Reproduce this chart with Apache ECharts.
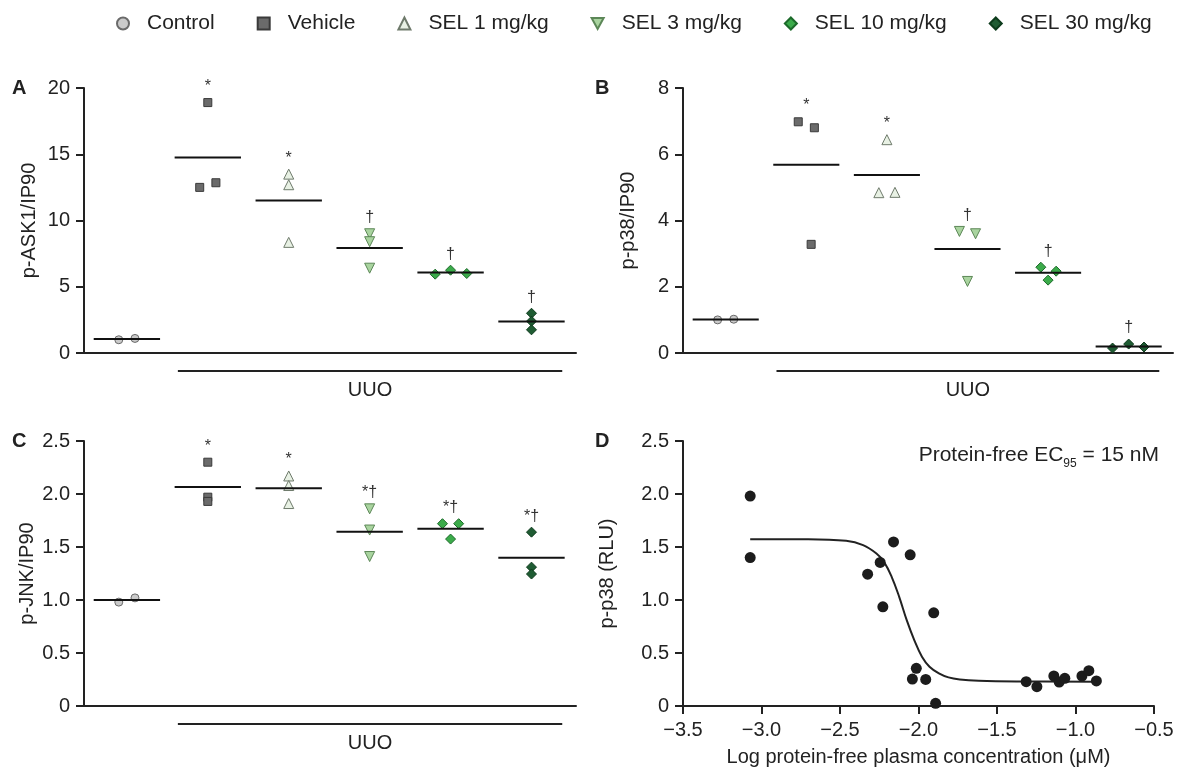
<!DOCTYPE html>
<html>
<head>
<meta charset="utf-8">
<script src="https://cdn.jsdelivr.net/npm/echarts@6/dist/echarts.min.js"></script>
<style>
  html, body { margin: 0; padding: 0; background: #fff; }
  #chart { width: 1177px; height: 770px; }
</style>
</head>
<body>
<div id="chart"></div>
<script>
// groups, in plotting order
const groups = ['Control', 'Vehicle', 'SEL 1 mg/kg', 'SEL 3 mg/kg', 'SEL 10 mg/kg', 'SEL 30 mg/kg'];

// panel A: p-ASK1/IP90
const askValues = [[1.0, 1.1], [18.9, 12.5, 12.85], [13.5, 12.7, 8.35], [9.0, 8.4, 6.4], [5.95, 6.25, 6.0], [3.0, 2.4, 1.75]];
const askJitter = [[-0.1, 0.1], [0, -0.1, 0.1], [0, 0, 0], [0, 0, 0], [-0.19, 0, 0.2], [0, 0, 0]];
const askMarks = ['', '*', '*', '\u2020', '\u2020', '\u2020'];
const askTicks = [0, 5, 10, 15, 20];

// panel B: p-p38/IP90
const p38Values = [[1.0, 1.02], [6.98, 6.8, 3.28], [6.44, 4.84, 4.85], [3.67, 3.6, 2.16], [2.59, 2.47, 2.2], [0.15, 0.27, 0.18]];
const p38Jitter = [[-0.1, 0.1], [-0.1, 0.1, 0.06], [0, -0.1, 0.1], [-0.1, 0.1, 0], [-0.09, 0.1, 0], [-0.2, 0, 0.19]];
const p38Marks = ['', '*', '*', '\u2020', '\u2020', '\u2020'];
const p38Ticks = [0, 2, 4, 6, 8];

// panel C: p-JNK/IP90
const jnkValues = [[0.98, 1.02], [2.30, 1.97, 1.93], [2.17, 2.08, 1.91], [1.86, 1.66, 1.41], [1.72, 1.72, 1.575], [1.64, 1.31, 1.245]];
const jnkJitter = [[-0.1, 0.1], [0, 0, 0], [0, 0, 0], [0, 0, 0], [-0.1, 0.1, 0], [0, 0, 0]];
const jnkMarks = ['', '*', '*', '*\u2020', '*\u2020', '*\u2020'];
const jnkTicks = [0, 0.5, 1.0, 1.5, 2.0, 2.5];

// panel D: concentration response
const logConc = [-3.072, -3.072, -2.324, -2.244, -2.227, -2.159, -2.053, -2.014, -2.039, -1.954, -1.903, -1.891,
  -1.314, -1.246, -1.138, -1.104, -1.068, -0.959, -0.915, -0.867];
const rluP38 = [1.98, 1.40, 1.244, 1.354, 0.936, 1.548, 1.426, 0.355, 0.254, 0.251, 0.879, 0.025,
  0.229, 0.182, 0.283, 0.226, 0.261, 0.283, 0.333, 0.236];
const fitX = [-3.072, -2.703, -2.461, -2.353, -2.268, -2.220, -2.171, -2.123, -2.075, -2.027, -1.978, -1.930,
  -1.870, -1.809, -1.737, -1.616, -1.374, -0.867];
const fitY = [1.573, 1.573, 1.558, 1.517, 1.438, 1.360, 1.219, 1.030, 0.810, 0.622, 0.465, 0.371,
  0.308, 0.270, 0.251, 0.239, 0.232, 0.229];
const dTicksX = [-3.5, -3.0, -2.5, -2.0, -1.5, -1.0, -0.5];
const dTicksY = [0, 0.5, 1.0, 1.5, 2.0, 2.5];

const FONT = 'Liberation Sans, Arial, sans-serif';
const INK = '#222';
const DOWN_TRIANGLE = 'path://M0,0 L10,0 L5,9 Z';

const symbols = [
  { symbol: 'circle', size: 8, color: '#cacaca', border: '#6a6a6a', rotate: 0 },
  { symbol: 'rect', size: 8, color: '#6b6b6b', border: '#3a3a3a', rotate: 0 },
  { symbol: 'triangle', size: 10, color: '#e8f1e4', border: '#6e7a6b', rotate: 0 },
  { symbol: 'triangle', size: 10, color: '#a9d49f', border: '#5c8757', rotate: 180 },
  { symbol: 'diamond', size: 10, color: '#3bab4a', border: '#1c6a2a', rotate: 0 },
  { symbol: 'diamond', size: 10, color: '#1f5c33', border: '#0d3b1c', rotate: 0 }
];

const chart = echarts.init(document.getElementById('chart'));

function mean(arr) {
  return arr.reduce((a, b) => a + b, 0) / arr.length;
}

function yAxisFor(idx, ticks, name, gap) {
  const step = ticks[1] - ticks[0];
  return {
    type: 'value', gridIndex: idx, min: ticks[0], max: ticks[ticks.length - 1], interval: step,
    name: name, nameLocation: 'middle', nameGap: gap,
    nameTextStyle: { fontFamily: FONT, fontSize: 20, color: INK },
    axisLine: { show: true, onZero: false, lineStyle: { color: INK, width: 2 } },
    axisTick: { show: true, length: 8, lineStyle: { color: INK, width: 2 } },
    axisLabel: {
      fontFamily: FONT, fontSize: 20, color: INK, margin: 14,
      formatter: v => (v === 0 ? '0' : (step < 1 ? v.toFixed(1) : String(v)))
    },
    splitLine: { show: false }
  };
}

function groupXAxis(idx) {
  return {
    type: 'value', gridIndex: idx, min: -0.53, max: 5.55,
    axisLine: { show: true, onZero: false, lineStyle: { color: INK, width: 2 } },
    axisTick: { show: false }, axisLabel: { show: false }, splitLine: { show: false }
  };
}

function panelSeries(idx, values, jitter, marks) {
  const out = [];
  values.forEach((vals, g) => {
    const s = symbols[g];
    out.push({
      name: groups[g], type: 'scatter', xAxisIndex: idx, yAxisIndex: idx,
      symbol: s.symbol, symbolSize: s.size, symbolRotate: s.rotate,
      itemStyle: { color: s.color, borderColor: s.border, borderWidth: 1, opacity: 1 },
      emphasis: { disabled: true },
      data: vals.map((v, k) => [g + jitter[g][k], v]),
      z: 3
    });
  });
  // group mean lines
  out.push({
    type: 'custom', xAxisIndex: idx, yAxisIndex: idx, z: 4, silent: true,
    data: values.map((vals, g) => [g, mean(vals)]),
    renderItem: (params, api) => {
      const a = api.coord([api.value(0) - 0.41, api.value(1)]);
      const b = api.coord([api.value(0) + 0.41, api.value(1)]);
      return { type: 'line', shape: { x1: a[0], y1: a[1], x2: b[0], y2: b[1] }, style: { stroke: '#111', lineWidth: 2 } };
    }
  });
  // significance marks above the highest point
  out.push({
    type: 'custom', xAxisIndex: idx, yAxisIndex: idx, z: 4, silent: true, clip: false,
    data: values.map((vals, g) => [g, Math.max(...vals)]),
    renderItem: (params, api) => {
      const p = api.coord([api.value(0), api.value(1)]);
      return {
        type: 'text',
        style: {
          text: marks[params.dataIndex], x: p[0], y: p[1] - 16, align: 'center', verticalAlign: 'middle',
          font: '16px ' + FONT, fill: '#333'
        }
      };
    }
  });
  // UUO bracket under the treated groups
  out.push({
    type: 'custom', xAxisIndex: idx, yAxisIndex: idx, z: 4, silent: true, clip: false,
    data: [[1, 5]],
    renderItem: (params, api) => {
      const a = api.coord([api.value(0) - 0.37, 0]);
      const b = api.coord([api.value(1) + 0.38, 0]);
      return {
        type: 'group',
        children: [
          { type: 'line', shape: { x1: a[0], y1: a[1] + 18, x2: b[0], y2: b[1] + 18 }, style: { stroke: INK, lineWidth: 2 } },
          { type: 'text', style: { text: 'UUO', x: (a[0] + b[0]) / 2, y: a[1] + 37, align: 'center', verticalAlign: 'middle', font: '20px ' + FONT, fill: INK } }
        ]
      };
    }
  });
  return out;
}

const letterStyle = { fontFamily: FONT, fontSize: 20, fontWeight: 'bold', color: INK };

chart.setOption({
  backgroundColor: '#fff',
  animation: false,
  title: [
    { text: 'A', left: 12, top: 78, padding: 0, textStyle: letterStyle },
    { text: 'B', left: 595, top: 78, padding: 0, textStyle: letterStyle },
    { text: 'C', left: 12, top: 431, padding: 0, textStyle: letterStyle },
    { text: 'D', left: 595, top: 431, padding: 0, textStyle: letterStyle }
  ],
  legend: {
    data: groups.map((g, i) => (i === 3 ? { name: g, icon: DOWN_TRIANGLE } : g)),
    left: 111, top: 8, itemWidth: 12, itemHeight: 12, itemGap: 42,
    selectedMode: false,
    textStyle: { fontFamily: FONT, fontSize: 21, color: INK, padding: [0, 0, 0, 13] }
  },
  grid: [
    { left: 84, top: 88, width: 492, height: 265 },
    { left: 683, top: 88, width: 490, height: 265 },
    { left: 84, top: 441, width: 492, height: 265 },
    { left: 683, top: 441, width: 471, height: 265 }
  ],
  xAxis: [
    groupXAxis(0), groupXAxis(1), groupXAxis(2),
    {
      type: 'value', gridIndex: 3, min: dTicksX[0], max: dTicksX[dTicksX.length - 1], interval: 0.5,
      name: 'Log protein-free plasma concentration (\u03bcM)', nameLocation: 'middle', nameGap: 41,
      nameTextStyle: { fontFamily: FONT, fontSize: 20, color: INK },
      axisLine: { show: true, onZero: false, lineStyle: { color: INK, width: 2 } },
      axisTick: { show: true, length: 8, lineStyle: { color: INK, width: 2 } },
      axisLabel: { fontFamily: FONT, fontSize: 20, color: INK, margin: 14, formatter: v => v.toFixed(1).replace('-', '\u2212') },
      splitLine: { show: false }
    }
  ],
  yAxis: [
    yAxisFor(0, askTicks, 'p-ASK1/IP90', 45),
    yAxisFor(1, p38Ticks, 'p-p38/IP90', 45),
    yAxisFor(2, jnkTicks, 'p-JNK/IP90', 47),
    yAxisFor(3, dTicksY, 'p-p38 (RLU)', 66)
  ],
  graphic: [
    {
      type: 'text', right: 18, top: 445,
      style: {
        text: 'Protein-free EC{sub|95} = 15 nM',
        font: '21px ' + FONT, fill: INK,
        rich: { sub: { fontSize: 12, fontFamily: FONT, fill: INK, verticalAlign: 'bottom', padding: [16, 0, 0, 0] } }
      }
    }
  ],
  series: [
    ...panelSeries(0, askValues, askJitter, askMarks),
    ...panelSeries(1, p38Values, p38Jitter, p38Marks),
    ...panelSeries(2, jnkValues, jnkJitter, jnkMarks),
    {
      type: 'line', xAxisIndex: 3, yAxisIndex: 3, smooth: 0.4, showSymbol: false, silent: true,
      lineStyle: { color: INK, width: 2 },
      data: fitX.map((x, i) => [x, fitY[i]]), z: 2
    },
    {
      type: 'scatter', xAxisIndex: 3, yAxisIndex: 3, symbolSize: 11, silent: true,
      itemStyle: { color: '#1c1c1c', opacity: 1 },
      data: logConc.map((x, i) => [x, rluP38[i]]), z: 3
    }
  ]
});
</script>
</body>
</html>
